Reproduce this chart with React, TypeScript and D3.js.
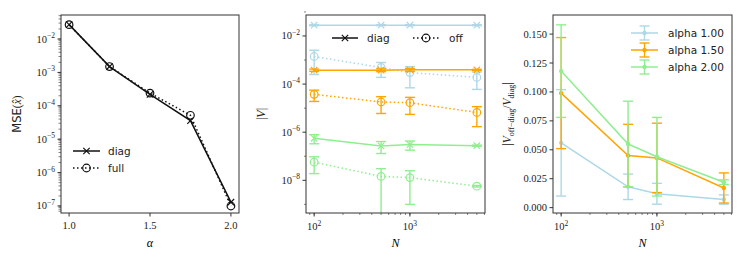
import React from 'react';
import * as d3 from 'd3';

// panel 1: MSE vs alpha
const alphas = [1.0, 1.25, 1.5, 1.75, 2.0];
const mseDiag = [2.7e-2, 1.5e-3, 2.2e-4, 3.6e-5, 1.3e-7];
const mseFull = [2.7e-2, 1.5e-3, 2.4e-4, 5.2e-5, 1.0e-7];

// panels 2 and 3: vs N
const Ns = [100, 500, 1000, 5000];
const seriesLabels = ['alpha 1.00', 'alpha 1.50', 'alpha 2.00'];
const colors = ['#add8e6', '#ffa500', '#90ee90'];

const vDiag = [
  [2.8e-2, 2.8e-2, 2.8e-2, 2.8e-2],
  [3.8e-4, 3.8e-4, 3.9e-4, 3.9e-4],
  [5.6e-7, 2.7e-7, 3.05e-7, 2.75e-7],
];
const vDiagErr = [
  [1.2e-3, 1.2e-3, 1.2e-3, 1.2e-3],
  [4e-5, 5e-5, 5e-5, 2e-5],
  [2.3e-7, 1.4e-7, 1.25e-7, 1.5e-8],
];
const vOff = [
  [1.4e-3, 4.9e-4, 3.0e-4, 1.9e-4],
  [3.75e-5, 1.8e-5, 1.68e-5, 6.6e-6],
  [5.7e-8, 1.45e-8, 1.3e-8, 5.7e-9],
];
const vOffErr = [
  [1.15e-3, 3.0e-4, 2.3e-4, 1.3e-4],
  [1.85e-5, 1.2e-5, 1.13e-5, 4.9e-6],
  [3.8e-8, 1.6e-8, 1.2e-8, 4e-10],
];

const ratio = [
  [0.056, 0.018, 0.012, 0.007],
  [0.099, 0.045, 0.043, 0.017],
  [0.118, 0.055, 0.044, 0.022],
];
const ratioErr = [
  [0.046, 0.011, 0.009, 0.004],
  [0.048, 0.027, 0.030, 0.013],
  [0.040, 0.037, 0.034, 0.002],
];
const ratioTicks = [0, 0.025, 0.05, 0.075, 0.1, 0.125, 0.15];

const W = 747;
const H = 262;
const TOP = 15;
const BOTTOM = 213;
const serif = "'Liberation Serif', 'DejaVu Serif', serif";
const sans = "'DejaVu Sans', sans-serif";

const x1 = d3.scaleLinear().domain([0.95, 2.05]).range([61, 239]);
const y1 = d3.scaleLog().domain([Math.pow(10, -7.21), Math.pow(10, -1.28)]).range([BOTTOM, TOP]);
const x2 = d3.scaleLog().domain([Math.pow(10, 1.915), Math.pow(10, 3.784)]).range([306, 485]);
const y2 = d3.scaleLog().domain([Math.pow(10, -9.4), Math.pow(10, -1.17)]).range([BOTTOM + 1, TOP + 1]);
const x3 = d3.scaleLog().domain([Math.pow(10, 1.915), Math.pow(10, 3.784)]).range([553, 732]);
const y3 = d3.scaleLinear().domain([-0.0055, 0.1665]).range([BOTTOM + 1, TOP]);

function minorLog(scale: any) {
  const [a, b] = scale.domain();
  const out: number[] = [];
  for (let d = Math.floor(Math.log10(a)); d <= Math.ceil(Math.log10(b)); d++) {
    for (let k = 1; k <= 9; k++) {
      const v = k * Math.pow(10, d);
      if (v >= a && v <= b) out.push(v);
    }
  }
  return out;
}

function Pow({ x, y, e, anchor }: any) {
  return (
    <text x={x} y={y} textAnchor={anchor} fontFamily={serif} fontSize={10.5} fill="#222">
      10<tspan fontSize={7.5} dy={-4.5}>{(e < 0 ? '\u2212' : '') + Math.abs(e)}</tspan>
    </text>
  );
}

function Marker({ type, x, y, color, r = 3.2 }: any) {
  if (type === 'x') {
    return (
      <path d={`M${x - r},${y - r}L${x + r},${y + r}M${x - r},${y + r}L${x + r},${y - r}`}
        stroke={color} strokeWidth={1.2} fill="none" />
    );
  }
  if (type === 'o') {
    return <circle cx={x} cy={y} r={r + 0.6} stroke={color} strokeWidth={1.2} fill="none" />;
  }
  return <circle cx={x} cy={y} r={2.2} fill={color} />;
}

function Series({ xs, ys, errs, xScale, yScale, color, dash, marker, log, clip }: any) {
  const pts = xs.map((x: number, i: number) => [xScale(x), yScale(ys[i])]);
  const line = d3.line()(pts as any) || '';
  return (
    <g clipPath={clip}>
      {errs && xs.map((x: number, i: number) => {
        const lo = log ? Math.max(ys[i] - errs[i], 1e-14) : ys[i] - errs[i];
        const hi = ys[i] + errs[i];
        const px = xScale(x);
        const py0 = yScale(lo);
        const py1 = yScale(hi);
        return (
          <g key={i} stroke={color} strokeWidth={1.4} fill="none">
            <line x1={px} x2={px} y1={py0} y2={py1} />
            <line x1={px - 5} x2={px + 5} y1={py0} y2={py0} />
            <line x1={px - 5} x2={px + 5} y1={py1} y2={py1} />
          </g>
        );
      })}
      <path d={line} stroke={color} strokeWidth={1.5} fill="none" strokeDasharray={dash} />
      {pts.map((p: number[], i: number) => (
        <Marker key={i} type={marker} x={p[0]} y={p[1]} color={color} />
      ))}
    </g>
  );
}

function Frame({ x0, x1: xe }: any) {
  return <rect x={x0} y={TOP} width={xe - x0} height={BOTTOM - TOP} fill="none" stroke="#333" strokeWidth={1} />;
}

export default function App() {
  const dotted = '1.5,2.5';
  const y1Major = d3.range(-7, -1).map((e) => e);
  const y2Major = [-2, -4, -6, -8];
  const y2Minor = [-1, -3, -5, -7, -9];

  return (
    <svg width={W} height={H} style={{ position: 'absolute', left: 0, top: 0, background: '#fff' }}>
      <defs>
        <clipPath id="c2"><rect x={306} y={TOP} width={179} height={BOTTOM - TOP} /></clipPath>
        <clipPath id="c3"><rect x={553} y={TOP} width={179} height={BOTTOM - TOP} /></clipPath>
      </defs>

      {/* ---------- panel 1 ---------- */}
      <g>
        {[1.0, 1.5, 2.0].map((t) => (
          <g key={t}>
            <line x1={x1(t)} x2={x1(t)} y1={BOTTOM} y2={BOTTOM + 3.5} stroke="#333" />
            <text x={x1(t)} y={229} textAnchor="middle" fontFamily={serif} fontSize={10.5} fill="#222">
              {t.toFixed(1)}
            </text>
          </g>
        ))}
        {minorLog(y1).map((v, i) => (
          <line key={i} x1={61} x2={58.5} y1={y1(v)} y2={y1(v)} stroke="#333" strokeWidth={0.6} />
        ))}
        {y1Major.map((e) => (
          <g key={e}>
            <line x1={61} x2={57.5} y1={y1(Math.pow(10, e))} y2={y1(Math.pow(10, e))} stroke="#333" />
            <Pow x={55} y={y1(Math.pow(10, e)) + 3.5} e={e} anchor="end" />
          </g>
        ))}
        <text x={x1(1.5)} y={247} textAnchor="middle" fontFamily={serif} fontStyle="italic" fontSize={12}>α</text>
        <text transform={`translate(21,${(TOP + BOTTOM) / 2}) rotate(-90)`} textAnchor="middle" fontSize={11.5} fill="#222">
          <tspan fontFamily={sans}>MSE</tspan>
          <tspan fontFamily={serif}>(</tspan>
          <tspan fontFamily={serif} fontStyle="italic">{'x\u0302'}</tspan>
          <tspan fontFamily={serif}>)</tspan>
        </text>
        <Series xs={alphas} ys={mseFull} xScale={x1} yScale={y1} color="#111" dash={dotted} marker="o" />
        <Series xs={alphas} ys={mseDiag} xScale={x1} yScale={y1} color="#111" marker="x" />
        <Frame x0={61} x1={239} />
        {/* legend */}
        <g>
          <line x1={73} x2={100} y1={151} y2={151} stroke="#111" strokeWidth={1.5} />
          <Marker type="x" x={86.5} y={151} color="#111" />
          <text x={108} y={155} fontFamily={sans} fontSize={10.5} fill="#222">diag</text>
          <line x1={73} x2={100} y1={168} y2={168} stroke="#111" strokeWidth={1.5} strokeDasharray={dotted} />
          <Marker type="o" x={86.5} y={168} color="#111" />
          <text x={108} y={172} fontFamily={sans} fontSize={10.5} fill="#222">full</text>
        </g>
      </g>

      {/* ---------- panel 2 ---------- */}
      <g>
        {minorLog(x2).map((v, i) => (
          <line key={i} x1={x2(v)} x2={x2(v)} y1={BOTTOM} y2={BOTTOM + 2} stroke="#333" strokeWidth={0.6} />
        ))}
        {[2, 3].map((e) => (
          <g key={e}>
            <line x1={x2(Math.pow(10, e))} x2={x2(Math.pow(10, e))} y1={BOTTOM} y2={BOTTOM + 3.5} stroke="#333" />
            <Pow x={x2(Math.pow(10, e))} y={230} e={e} anchor="middle" />
          </g>
        ))}
        {y2Minor.map((e) => (
          <line key={e} x1={306} x2={304} y1={y2(Math.pow(10, e))} y2={y2(Math.pow(10, e))} stroke="#333" strokeWidth={0.6} />
        ))}
        {y2Major.map((e) => (
          <g key={e}>
            <line x1={306} x2={302.5} y1={y2(Math.pow(10, e))} y2={y2(Math.pow(10, e))} stroke="#333" />
            <Pow x={300} y={y2(Math.pow(10, e)) + 3.5} e={e} anchor="end" />
          </g>
        ))}
        <text x={395.5} y={247} textAnchor="middle" fontFamily={serif} fontStyle="italic" fontSize={12}>N</text>
        <text transform={`translate(265,${(TOP + BOTTOM) / 2}) rotate(-90)`} textAnchor="middle" fontFamily={serif} fontSize={12} fill="#222">
          |<tspan fontStyle="italic">V</tspan>|
        </text>
        {colors.map((c, k) => (
          <g key={k}>
            <Series xs={Ns} ys={vDiag[k]} errs={vDiagErr[k]} xScale={x2} yScale={y2} color={c} marker="x" log clip="url(#c2)" />
            <Series xs={Ns} ys={vOff[k]} errs={vOffErr[k]} xScale={x2} yScale={y2} color={c} marker="o" dash={dotted} log clip="url(#c2)" />
          </g>
        ))}
        <Frame x0={306} x1={485} />
        {/* legend */}
        <g>
          <line x1={332} x2={358} y1={38} y2={38} stroke="#111" strokeWidth={1.5} />
          <Marker type="x" x={345} y={38} color="#111" />
          <text x={367} y={42} fontFamily={sans} fontSize={10.5} fill="#222">diag</text>
          <line x1={413} x2={439} y1={38} y2={38} stroke="#111" strokeWidth={1.5} strokeDasharray={dotted} />
          <Marker type="o" x={426} y={38} color="#111" />
          <text x={449} y={42} fontFamily={sans} fontSize={10.5} fill="#222">off</text>
        </g>
      </g>

      {/* ---------- panel 3 ---------- */}
      <g>
        {minorLog(x3).map((v, i) => (
          <line key={i} x1={x3(v)} x2={x3(v)} y1={BOTTOM} y2={BOTTOM + 2} stroke="#333" strokeWidth={0.6} />
        ))}
        {[2, 3].map((e) => (
          <g key={e}>
            <line x1={x3(Math.pow(10, e))} x2={x3(Math.pow(10, e))} y1={BOTTOM} y2={BOTTOM + 3.5} stroke="#333" />
            <Pow x={x3(Math.pow(10, e))} y={230} e={e} anchor="middle" />
          </g>
        ))}
        {ratioTicks.map((t) => (
          <g key={t}>
            <line x1={553} x2={549.5} y1={y3(t)} y2={y3(t)} stroke="#333" />
            <text x={547} y={y3(t) + 3.5} textAnchor="end" fontFamily={serif} fontSize={10.5} fill="#222">{t.toFixed(3)}</text>
          </g>
        ))}
        <text x={642.5} y={247} textAnchor="middle" fontFamily={serif} fontStyle="italic" fontSize={12}>N</text>
        <text transform={`translate(511,${(TOP + BOTTOM) / 2}) rotate(-90)`} textAnchor="middle" fontFamily={serif} fontSize={11.5} fill="#222">
          |<tspan fontStyle="italic">V</tspan>
          <tspan fontSize={8} dy={2.5}>off−diag</tspan>
          <tspan dy={-2.5}>/</tspan>
          <tspan fontStyle="italic">V</tspan>
          <tspan fontSize={8} dy={2.5}>diag</tspan>
          <tspan dy={-2.5}>|</tspan>
        </text>
        {colors.map((c, k) => (
          <Series key={k} xs={Ns} ys={ratio[k]} errs={ratioErr[k]} xScale={x3} yScale={y3} color={c} marker="." clip="url(#c3)" />
        ))}
        <Frame x0={553} x1={732} />
        {/* legend */}
        {seriesLabels.map((s, k) => {
          const ly = 33 + k * 17;
          return (
            <g key={s}>
              <line x1={631} x2={658} y1={ly} y2={ly} stroke={colors[k]} strokeWidth={1.5} />
              <line x1={644.5} x2={644.5} y1={ly - 7} y2={ly + 7} stroke={colors[k]} strokeWidth={1.4} />
              <line x1={639.5} x2={649.5} y1={ly - 7} y2={ly - 7} stroke={colors[k]} strokeWidth={1.4} />
              <line x1={639.5} x2={649.5} y1={ly + 7} y2={ly + 7} stroke={colors[k]} strokeWidth={1.4} />
              <circle cx={644.5} cy={ly} r={2.2} fill={colors[k]} />
              <text x={668} y={ly + 4} fontFamily={sans} fontSize={10.5} fill="#222">{s}</text>
            </g>
          );
        })}
      </g>
    </svg>
  );
}
